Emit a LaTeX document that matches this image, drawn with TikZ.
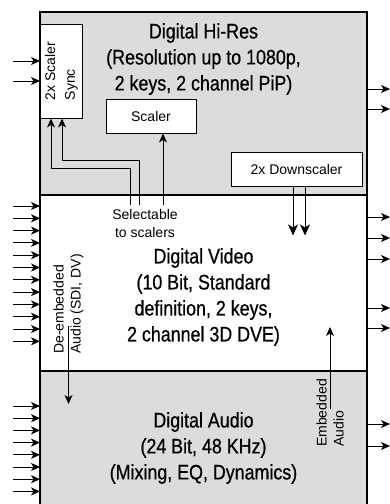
\documentclass[tikz,border=0pt]{standalone}
\usepackage{fontspec}
\setmainfont{Liberation Sans}
\newfontfamily\narrowfont{Liberation Sans}[FakeStretch=0.85,FakeBold=0.6]
\usetikzlibrary{positioning, arrows.meta}
\definecolor{panel}{RGB}{220,220,220}

\begin{document}
\begin{tikzpicture}[x=1pt,y=-1pt,>={Stealth[length=9pt,width=8pt,inset=2.5pt]},
    section/.style={minimum width=327pt,inner sep=0pt,outer sep=0pt},
    title/.style={font=\narrowfont\fontsize{21}{26}\selectfont,align=center},
    label/.style={font=\fontsize{14}{17}\selectfont},
    box/.style={draw,fill=white,line width=0.9pt,inner sep=0pt,font=\fontsize{14}{17}\selectfont},
    wire/.style={line width=0.9pt},
    io/.style={->,line width=0.9pt},
    frame/.style={line width=1.8pt}]
    \useasboundingbox (0,0) rectangle (390,504);

    % the three sections
    \node[section,fill=panel,minimum height=183pt] (hires) at (203.5,103.5) {};
    \node[section,fill=white,minimum height=176pt] (video) at (203.5,283) {};
    \node[section,fill=panel,minimum height=133pt] (audio) at (203.5,437.5) {};
    \draw[frame] (audio.south west) -- (hires.north west) -- (hires.north east) -- (audio.south east);
    \draw[frame] (hires.south west) -- (hires.south east);
    \draw[frame] (video.south west) -- (video.south east);

    \node[title] (hirestitle) at (203.5,59) {Digital Hi-Res\\(Resolution up to 1080p,\\2 keys, 2 channel PiP)};
    \node[title] (videotitle) at (203.5,297) {Digital Video\\(10 Bit, Standard\\definition, 2 keys,\\2 channel 3D DVE)};
    \node[title] (audiotitle) at (203.5,448) {Digital Audio\\(24 Bit, 48 KHz)\\(Mixing, EQ, Dynamics)};

    % blocks inside hi-res
    \node[box,minimum width=42pt,minimum height=94pt] (sync) at (61,71)
        {\rotatebox{90}{\fontsize{14}{20}\selectfont\begin{tabular}{@{}l@{}}2x Scaler\\Sync\end{tabular}}};
    \node[box,minimum width=90pt,minimum height=34pt] (scaler) at (151,116) {Scaler};
    \node[box,minimum width=131pt,minimum height=34pt] (down) at (296.5,169) {2x Downscaler};

    \node[label,align=center,inner xsep=0pt,inner ysep=4pt,font=\fontsize{14}{18}\selectfont] (sel) at (145,223) {Selectable\\to scalers};
    \node[label,rotate=90,align=left,inner sep=0pt] (deemb) at (68.5,304) {De-embedded\\Audio (SDI, DV)};
    \node[label,rotate=90,align=left,inner sep=0pt] (embed) at (330,413) {Embedded\\Audio};

    % scaler routing
    \draw[wire,->] ([xshift=-15pt]sel.north) -- ++(0,-36) -| ([xshift=-10pt]sync.south);
    \draw[wire,->] ([xshift=-6pt]sel.north) -- ++(0,-44) -| ([xshift=1pt]sync.south);
    \draw[wire,->] ([xshift=18pt]sel.north) -- ([xshift=12pt]scaler.south);
    \draw[wire,-{Stealth[length=11pt,width=10pt,inset=3pt]}] ([xshift=-3.5pt]down.south) -- ++(0,49);
    \draw[wire,-{Stealth[length=11pt,width=10pt,inset=3pt]}] ([xshift=8.5pt]down.south) -- ++(0,49);

    % audio paths
    \draw[io] ([yshift=-22pt]deemb.center) -- ++(0,78);
    \draw[io] ([yshift=4pt]embed.center) -- ++(0,-82);

    % inputs
    \foreach \y in {61,81}
        \draw[io] (hires.west |- 0,\y) ++(-27,0) -- (hires.west |- 0,\y);
    \foreach \y in {206,218.3,230.6,242.9,255.2,267.5,279.8,292.1,304.4,316.7,329,341.3}
        \draw[io] (video.west |- 0,\y) ++(-27,0) -- (video.west |- 0,\y);
    \foreach \y in {406,418.2,430.4,442.6,454.8,467,479.2,491.4}
        \draw[io] (audio.west |- 0,\y) ++(-27,0) -- (audio.west |- 0,\y);

    % outputs
    \foreach \y in {89,109}
        \draw[io] (hires.east |- 0,\y) -- ++(23,0);
    \foreach \y in {217,238,259,308,328}
        \draw[io] (video.east |- 0,\y) -- ++(23,0);
    \foreach \y in {424,446}
        \draw[io] (audio.east |- 0,\y) -- ++(23,0);
\end{tikzpicture}
\end{document}
